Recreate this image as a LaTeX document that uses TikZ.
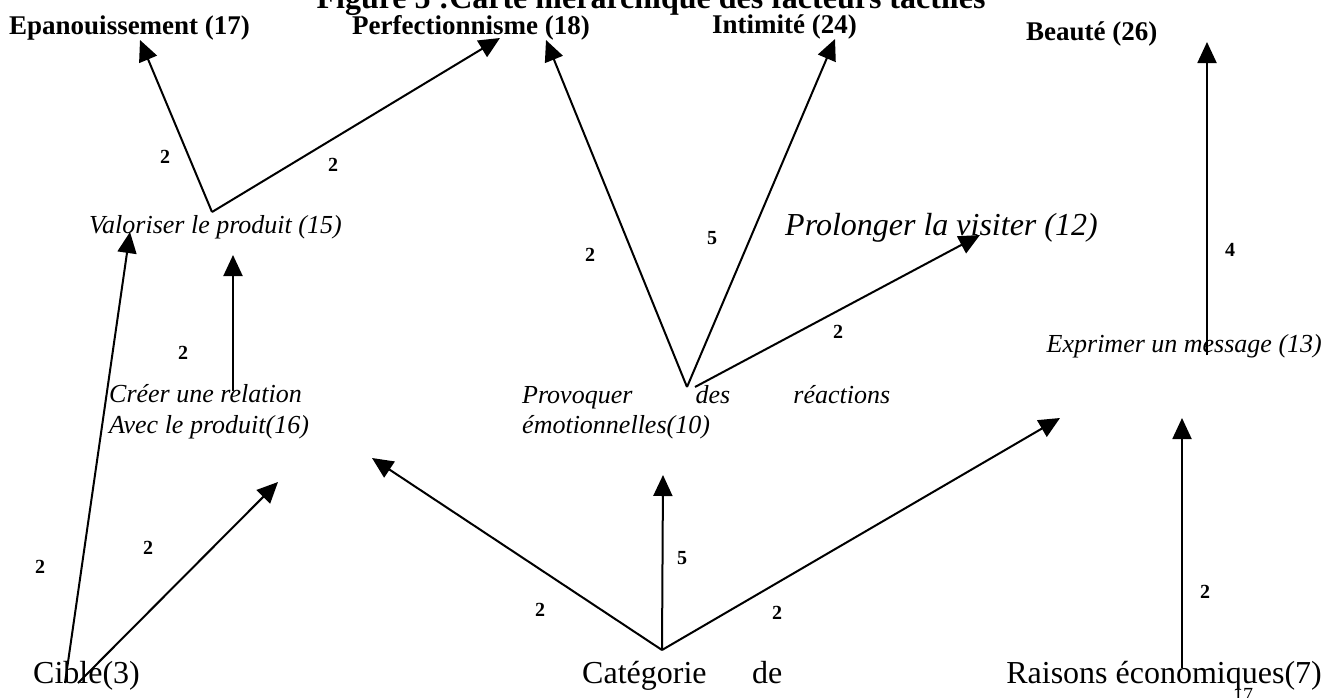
\documentclass[tikz,border=0pt]{standalone}
\usepackage{fontspec}
\setmainfont{Liberation Serif}[
  BoldFont=Liberation Serif Bold,
  ItalicFont=Liberation Serif Italic,
  BoldItalicFont=Liberation Serif Bold Italic]
\usetikzlibrary{arrows.meta}
\begin{document}
\begin{tikzpicture}[x=1pt,y=-1pt,
  lab/.style={font=\fontsize{27}{30}\selectfont\bfseries, inner sep=0pt},
  ttl/.style={font=\fontsize{32}{36}\selectfont\bfseries, inner sep=0pt},
  it/.style={font=\fontsize{26}{30}\selectfont\itshape, inner sep=0pt},
  big/.style={font=\fontsize{32}{36}\selectfont, inner sep=0pt},
  wt/.style={font=\fontsize{20}{22}\selectfont\bfseries, inner sep=0pt},
  pg/.style={font=\fontsize{20}{22}\selectfont, inner sep=0pt},
  arr/.style={line width=2pt, -{Triangle[length=21pt,width=19pt]}},
]
\useasboundingbox (0,0) rectangle (1340,697);

% title and top-level factors
\node[ttl, anchor=base] (title) at (651,8) {Figure 5 :Carte hiérarchique des facteurs tactiles};
\node[lab, anchor=base west] (epa)  at (9,34)    {Epanouissement (17)};
\node[lab, anchor=base west] (perf) at (352,34)  {Perfectionnisme (18)};
\node[lab, anchor=base west] (inti) at (712,33)  {Intimité (24)};
\node[lab, anchor=base west] (beau) at (1026,40) {Beauté (26)};

% intermediate consequences
\node[it, anchor=base west] (valo)   at (89,233)   {Valoriser le produit (15)};
\node[it, anchor=base west] (prol)   at (785,235)  {\fontsize{32}{36}\selectfont Prolonger la visiter (12)};
\node[it, anchor=base west] (creerA) at (109,402)  {Créer une relation};
\node[it, anchor=base west] (creerB) at (109,433)  {Avec le produit(16)};
\node[it, anchor=base west] (provA)  at (522,403)  {\makebox[368pt][s]{Provoquer\hfill des\hfill réactions}};
\node[it, anchor=base west] (provB)  at (522,433)  {émotionnelles(10)};
\node[it, anchor=base east] (expr)   at (1322,352) {Exprimer un message (13)};

% attributes
\node[big, anchor=base west] (cible) at (33,683)   {Cible(3)};
\node[big, anchor=base west] (cat)   at (582,683)  {\makebox[200pt][s]{Catégorie\hfill de}};
\node[big, anchor=base east] (rais)  at (1322,683) {Raisons économiques(7)};
\node[pg, anchor=base] (page) at (1243,701) {17};

% connector end points
\coordinate (vV)    at (212,212);
\coordinate (tEpa)  at (140,40);
\coordinate (tPerA) at (500,38);
\coordinate (sCre)  at (233,391);
\coordinate (tVal)  at (233,255);
\coordinate (sCibA) at (65,683);
\coordinate (tValB) at (130,232);
\coordinate (sCibB) at (78,683);
\coordinate (tCre)  at (278,482);
\coordinate (vCat)  at (662,650);
\coordinate (tCreB) at (372,458);
\coordinate (tProv) at (663,475);
\coordinate (tExp)  at (1060,418);
\coordinate (vProv) at (687,387);
\coordinate (sProv) at (695,387);
\coordinate (tPerB) at (546,40);
\coordinate (tInt)  at (835,39);
\coordinate (tPro)  at (980,235);
\coordinate (sRai)  at (1182,668);
\coordinate (tExpB) at (1182,418);
\coordinate (sExp)  at (1207,355);
\coordinate (tBea)  at (1207,42);

% links with their weights
\draw[arr] (vV) -- (tEpa);
\draw[arr] (vV) -- (tPerA);
\draw[arr] (sCre) -- (tVal);
\draw[arr] (sCibA) -- (tValB);
\draw[arr] (sCibB) -- (tCre);
\draw[arr] (vCat) -- (tCreB);
\draw[arr] (vCat) -- (tProv);
\draw[arr] (vCat) -- (tExp);
\draw[arr] (vProv) -- (tPerB);
\draw[arr] (vProv) -- (tInt);
\draw[arr] (sProv) -- (tPro);
\draw[arr] (sRai) -- (tExpB);
\draw[arr] (sExp) -- (tBea);

\node[wt] (w1)  at (165,157)  {2};
\node[wt] (w2)  at (333,165)  {2};
\node[wt] (w3)  at (183,353)  {2};
\node[wt] (w4)  at (40,567)   {2};
\node[wt] (w5)  at (148,548)  {2};
\node[wt] (w6)  at (540,610)  {2};
\node[wt] (w7)  at (682,558)  {5};
\node[wt] (w8)  at (777,613)  {2};
\node[wt] (w9)  at (590,255)  {2};
\node[wt] (w10) at (712,238)  {5};
\node[wt] (w11) at (838,332)  {2};
\node[wt] (w12) at (1205,592) {2};
\node[wt] (w13) at (1230,250) {4};
\end{tikzpicture}
\end{document}
